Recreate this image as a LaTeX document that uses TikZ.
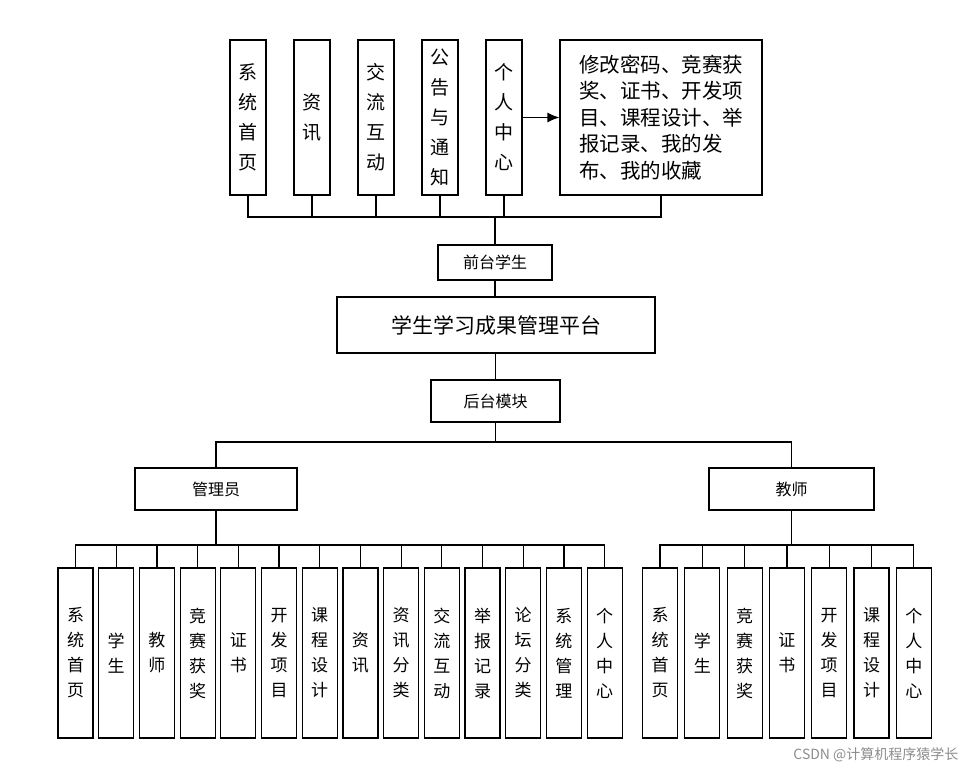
\documentclass[tikz,border=0pt]{standalone}
\usepackage{fontspec}
\setmainfont{Noto Sans CJK SC}
\usetikzlibrary{arrows.meta}
\begin{document}
\begin{tikzpicture}[x=1pt,y=-1pt,
  box/.style={draw,line width=1.2pt,inner sep=0pt,align=center},
  vtop/.style={box,minimum width=36pt,minimum height=155pt,font=\fontsize{19}{30}\selectfont,text width=20pt},
  vbot/.style={box,minimum width=35pt,minimum height=170pt,font=\fontsize{17}{25}\selectfont,text width=18pt},
  hbox/.style={box,font=\fontsize{16}{20}\selectfont},
  ln/.style={line width=1.2pt}]
\useasboundingbox (0,0) rectangle (966,773);
% top row
\node[vtop] (t1) at (248,117.5) {系\\统\\首\\页};
\node[vtop] (t2) at (312,117.5) {资\\讯};
\node[vtop] (t3) at (376,117.5) {交\\流\\互\\动};
\node[vtop] (t4) at (440,117.5) {公\\告\\与\\通\\知};
\node[vtop] (t5) at (504,117.5) {个\\人\\中\\心};
\node[box,minimum width=202pt,minimum height=155pt,font=\fontsize{20.5}{26.5}\selectfont,align=left] (big) at (661,117.5) {修改密码、竞赛获\\奖、证书、开发项\\目、课程设计、举\\报记录、我的发\\布、我的收藏};
\draw[ln,-{Latex[length=12pt,width=10pt]}] (t5.east) -- (big.west);
\node[hbox,minimum width=114pt,minimum height=35pt] (qt) at (495,262.5) {前台学生};
\node[box,minimum width=318pt,minimum height=56pt,font=\fontsize{21}{24}\selectfont] (main) at (496,325) {学生学习成果管理平台};
\node[hbox,minimum width=129pt,minimum height=42pt] (ht) at (495.5,401) {后台模块};
\coordinate (busT) at (495,217);
\draw[ln] (t1.south) |- (busT) -| (big.south);
\foreach \i in {2,3,4,5}{\draw[ln] (t\i.south) -- (t\i.south |- busT);}
\draw[ln] (busT) -- (qt.north);
\draw[ln] (qt.south) -- (main.north -| qt.south);
\draw[ln] (main.south -| ht.north) -- (ht.north);
% second level
\node[hbox,minimum width=162pt,minimum height=42pt] (gly) at (216,489) {管理员};
\node[hbox,minimum width=165pt,minimum height=42pt] (js) at (791.5,489) {教师};
\coordinate (busM) at (495.5,442);
\draw[ln] (ht.south) -- (busM);
\draw[ln] (gly.north) |- (busM) -| (js.north);
% admin leaves
\foreach \t [count=\i] in {系\\统\\首\\页,学\\生,教\\师,竞\\赛\\获\\奖,证\\书,开\\发\\项\\目,课\\程\\设\\计,资\\讯,资\\讯\\分\\类,交\\流\\互\\动,举\\报\\记\\录,论\\坛\\分\\类,系\\统\\管\\理,个\\人\\中\\心}{
  \node[vbot] (a\i) at ({75.5+(\i-1)*40.7},653) {\t};}
\coordinate (busA) at (216,545);
\draw[ln] (gly.south) -- (busA);
\draw[ln] (a1.north) |- (busA) -| (a14.north);
\foreach \i in {2,...,13}{\draw[ln] (a\i.north) -- (a\i.north |- busA);}
% teacher leaves
\foreach \t [count=\i] in {系\\统\\首\\页,学\\生,竞\\赛\\获\\奖,证\\书,开\\发\\项\\目,课\\程\\设\\计,个\\人\\中\\心}{
  \node[vbot] (b\i) at ({660+(\i-1)*42.3},653) {\t};}
\coordinate (busB) at (791.5,545);
\draw[ln] (js.south) -- (busB);
\draw[ln] (b1.north) |- (busB) -| (b7.north);
\foreach \i in {2,...,6}{\draw[ln] (b\i.north) -- (b\i.north |- busB);}
\node[text=black!45,font=\fontsize{14}{16}\selectfont,anchor=east] (wm) at (962,755) {CSDN @计算机程序猿学长};
\end{tikzpicture}
\end{document}
